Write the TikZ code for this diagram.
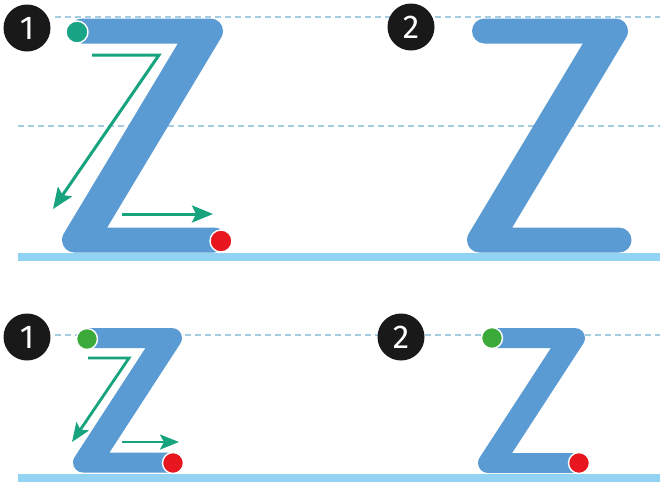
\documentclass[tikz,border=0pt]{standalone}
\usepackage{fontspec}
\setmainfont{Fira Sans}
\usetikzlibrary{arrows.meta,calc}
\definecolor{zblue}{HTML}{5A9BD3}
\definecolor{baseblue}{HTML}{92D2F2}
\definecolor{dashblue}{HTML}{A6CCE2}
\definecolor{arrowgreen}{HTML}{16A37E}
\definecolor{tealdot}{HTML}{17A586}
\definecolor{greendot}{HTML}{3BAA3A}
\definecolor{reddot}{HTML}{E8161E}
\tikzset{
  guide/.style={dashblue, line width=1.3pt, dash pattern=on 6pt off 4pt},
  baseline/.style={baseblue, line width=8pt},
  badge/.style={circle, fill=black!90, minimum size=47pt, inner sep=0pt, text=white, font=\fontsize{33}{33}\selectfont},
  dotstyle/.style={circle, draw=white, line width=1.4pt, minimum size=22pt, inner sep=0pt},
  guidearrow/.style={arrowgreen, line width=3pt, line join=miter, -{Stealth[length=21pt,width=17pt,inset=4pt]}},
  guidearrowsm/.style={arrowgreen, line width=2.8pt, line join=miter, -{Stealth[length=19pt,width=15pt,inset=4pt]}},
}
% #1 Lx, #2 top of top bar, #3 top-right vertex x, #4 inner top corner x,
% #5 inner bottom corner x, #6 top of bottom bar, #7 bottom-left vertex x, #8 Rx
\newcommand\zglyph[8]{%
  \pgfmathsetmacro\zs{(#3-#5)/(#6-#2)}%
  \pgfmathsetmacro\zn{sqrt(1+\zs*\zs)}%
  \pgfmathsetmacro\zang{atan(\zs)}%
  \pgfmathsetmacro\zcx{#3-\zs*\zr-\zr*\zn}%
  \pgfmathsetmacro\zdx{#7+\zs*\zr+\zr*\zn}%
  \fill[zblue] (#1,#2) -- (\zcx,#2) arc[start angle=270,end angle=360+\zang,radius=\zr]
    -- (#5,#6) -- (#8,#6) arc[start angle=-90,end angle=90,radius=\zr]
    -- (\zdx,#6+\zw) arc[start angle=90,end angle=180+\zang,radius=\zr]
    -- (#4,#2+\zw) -- (#1,#2+\zw) arc[start angle=90,end angle=270,radius=\zr] -- cycle;}
\begin{document}
\begin{tikzpicture}[x=1pt,y=-1pt]
\useasboundingbox (0,0) rectangle (660,483);
\fill[white] (0,0) rectangle (660,483);
% guide lines
\draw[guide] (55,17) -- (660,17);
\draw[guide] (18,126) -- (660,126);
\draw[baseline] (18,257) -- (660,257);
\draw[guide] (55,335) -- (660,335);
\draw[baseline] (18,478) -- (660,478);
% big Z shapes
\def\zw{25}\def\zr{12.5}
\zglyph{82}{18.5}{232.6}{177.8}{107.2}{227.5}{52.4}{214}
\zglyph{484.5}{18.5}{637.6}{582.8}{512.2}{227.5}{457.4}{619}
% small Z shapes
\def\zw{20}\def\zr{10}
\zglyph{88}{328}{190.4}{145.5}{109.5}{452.5}{64.6}{170}
\zglyph{492}{328}{593.4}{550.9}{512.1}{453}{469.6}{577}
% badges
\node[badge] (b1) at (27,28) {1};
\node[badge] (b2) at (411,27) {2};
\node[badge] (b3) at (27,337) {1};
\node[badge] (b4) at (401,337) {2};
% dots
\node[dotstyle, fill=tealdot] (s1) at (77,32) {};
\node[dotstyle, fill=reddot] (e1) at (221,241) {};
\node[dotstyle, fill=greendot, minimum size=21pt] (s3) at (87,339) {};
\node[dotstyle, fill=reddot, minimum size=21pt] (e3) at (173,463) {};
\node[dotstyle, fill=greendot, minimum size=21pt] (s4) at (492,338) {};
\node[dotstyle, fill=reddot, minimum size=21pt] (e4) at (579,463) {};
% arrows
\coordinate (a1s) at (92,55);
\coordinate (a1c) at (159,55);
\coordinate (a1e) at (53,209);
\draw[guidearrow] (a1s) -- (a1c) -- (a1e);
\coordinate (a2s) at (122,214);
\coordinate (a2e) at (213,214);
\draw[guidearrow] (a2s) -- (a2e);
\coordinate (a3s) at (88,358);
\coordinate (a3c) at (129,358);
\coordinate (a3e) at (72,442);
\draw[guidearrowsm] (a3s) -- (a3c) -- (a3e);
\coordinate (a4s) at (122,442);
\coordinate (a4e) at (179,442);
\draw[guidearrowsm] (a4s) -- (a4e);
\end{tikzpicture}
\end{document}
